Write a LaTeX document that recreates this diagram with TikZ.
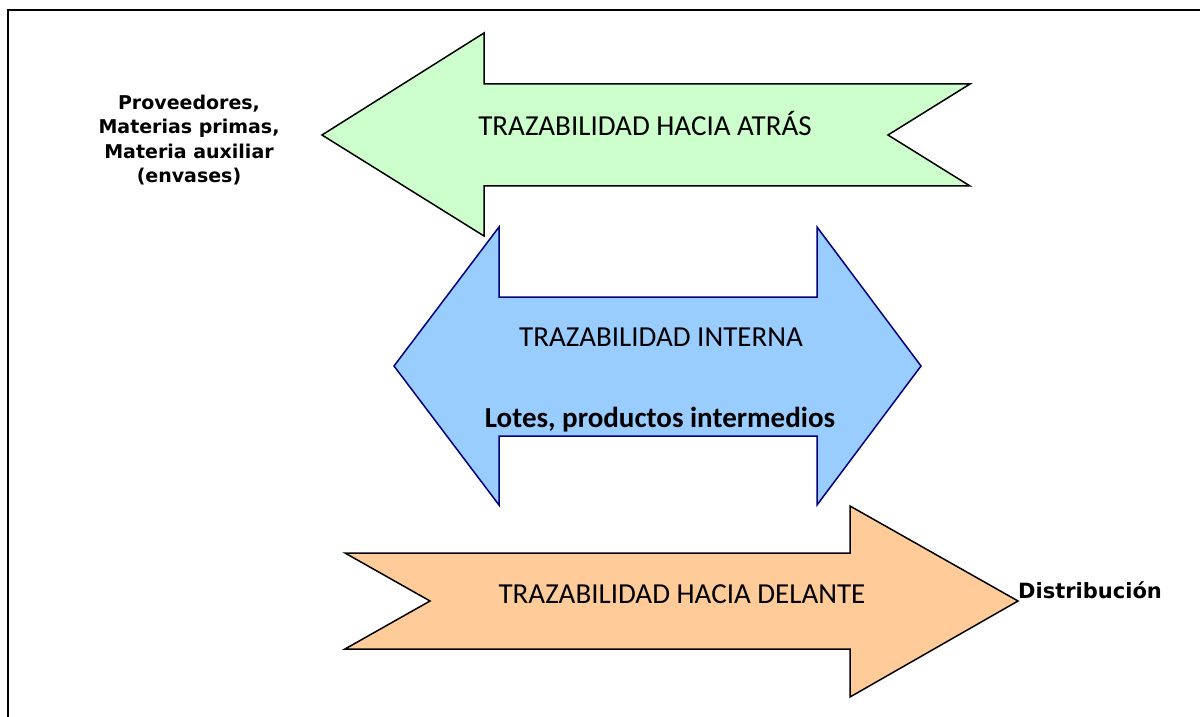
\documentclass[tikz,border=0pt]{standalone}
\usepackage{fontspec}
\setmainfont{Carlito}
\newfontfamily\sidefont{DejaVu Sans}
\usetikzlibrary{positioning}
\definecolor{backfill}{HTML}{CCFFCC}
\definecolor{intfill}{HTML}{99CCFF}
\definecolor{intline}{HTML}{000080}
\definecolor{fwdfill}{HTML}{FFCC99}
\tikzset{
  backarr/.style={draw=black, fill=backfill, line width=0.75pt},
  intarr/.style={draw=intline, fill=intfill, line width=0.75pt},
  fwdarr/.style={draw=black, fill=fwdfill, line width=0.75pt},
  albl/.style={font=\fontsize{14.5}{17}\selectfont, inner sep=0pt},
  blbl/.style={font=\fontsize{14.5}{17}\selectfont\bfseries, inner sep=0pt},
  side/.style={font=\sidefont\bfseries\fontsize{9.5}{12.3}\selectfont, align=center, inner sep=0pt},
}
\begin{document}
\begin{tikzpicture}[x=0.5pt,y=-0.5pt]
\useasboundingbox (0,0) rectangle (1200,717);
\clip (0,0) rectangle (1200,717);
\draw[line width=1pt] (8,10) rectangle (1215,730);
% arrows
\draw[backarr] (322,135) -- (484,33) -- (484,84) -- (970,84) -- (888,135) -- (970,186) -- (484,186) -- (484,236) -- cycle;
\draw[intarr] (394,366) -- (499,227) -- (499,297) -- (817,297) -- (817,227) -- (921,366) -- (817,505) -- (817,436) -- (499,436) -- (499,505) -- cycle;
\draw[fwdarr] (345,553) -- (850,553) -- (850,506) -- (1018,601) -- (850,697) -- (850,649) -- (345,649) -- (430,601) -- cycle;
% labels
\node[albl, anchor=base] (back) at (645,135) {TRAZABILIDAD HACIA ATRÁS};
\node[albl, anchor=base] (int) at (661,346) {TRAZABILIDAD INTERNA};
\node[blbl, anchor=base] (lots) at (660,427) {Lotes, productos intermedios};
\node[albl, anchor=base] (fwd) at (682,603) {TRAZABILIDAD HACIA DELANTE};
\node[side] (src) at (189,140) {Proveedores,\\Materias primas,\\Materia auxiliar\\(envases)};
\node[side, font=\sidefont\bfseries\fontsize{10.5}{12.6}\selectfont, anchor=base] (dist) at (1090,598) {Distribución};
\end{tikzpicture}
\end{document}
